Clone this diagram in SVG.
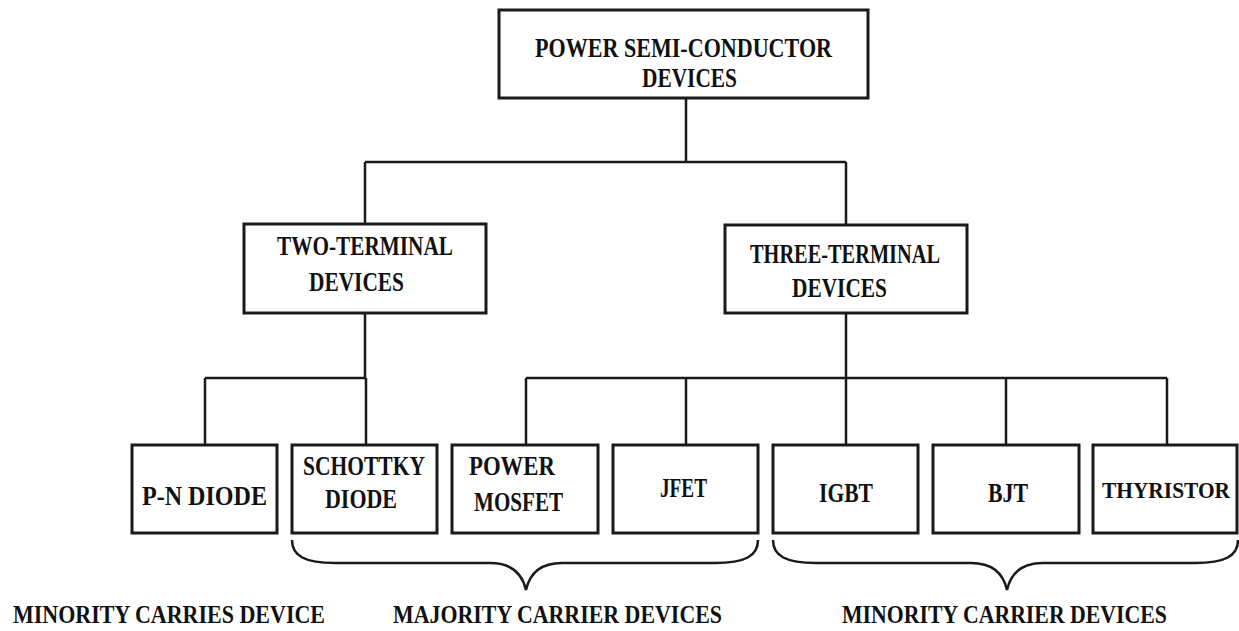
<svg xmlns="http://www.w3.org/2000/svg" width="1239" height="631" viewBox="0 0 1239 631">
<style>
.box{fill:#fff;stroke:#1a1a1a;stroke-width:3}
.con{fill:none;stroke:#1a1a1a;stroke-width:2.5}
.brace{fill:none;stroke:#1a1a1a;stroke-width:2.5}
text{font-family:"Liberation Serif","Times New Roman",serif;font-weight:bold;font-size:27px;fill:#111}
.sm{font-size:25px}
.xs{font-size:23px}
</style>
<rect width="1239" height="631" fill="#fff"/>
<g id="connectors">
<path class="con" d="M686,98 V162 M365,162 H846 M365,162 V224 M846,162 V225"/>
<path class="con" d="M365,313 V378 M205,378 H365 M205,378 V445 M366,378 V445"/>
<path class="con" d="M846,313 V378 M526,378 H1167 M526,378 V445 M686,378 V445 M846,378 V445 M1006,378 V445 M1167,378 V445"/>
</g>
<g id="root">
<rect class="box" x="499" y="10" width="369" height="88"/>
<text x="535" y="57" textLength="297" lengthAdjust="spacingAndGlyphs">POWER SEMI-CONDUCTOR</text>
<text x="642" y="87" textLength="95" lengthAdjust="spacingAndGlyphs">DEVICES</text>
</g>
<g id="two-terminal">
<rect class="box" x="244" y="224" width="242" height="89"/>
<text x="277" y="255" textLength="176" lengthAdjust="spacingAndGlyphs">TWO-TERMINAL</text>
<text x="309" y="291" textLength="95" lengthAdjust="spacingAndGlyphs">DEVICES</text>
</g>
<g id="three-terminal">
<rect class="box" x="725" y="225" width="242" height="88"/>
<text x="750" y="263" textLength="190" lengthAdjust="spacingAndGlyphs">THREE-TERMINAL</text>
<text x="792" y="297" textLength="95" lengthAdjust="spacingAndGlyphs">DEVICES</text>
</g>
<g id="pn-diode">
<rect class="box" x="132" y="445" width="145" height="88"/>
<text x="142" y="505" textLength="125" lengthAdjust="spacingAndGlyphs">P-N DIODE</text>
</g>
<g id="schottky-diode">
<rect class="box" x="292" y="445" width="145" height="88"/>
<text x="303" y="475" textLength="122" lengthAdjust="spacingAndGlyphs">SCHOTTKY</text>
<text x="325" y="508" textLength="72" lengthAdjust="spacingAndGlyphs">DIODE</text>
</g>
<g id="power-mosfet">
<rect class="box" x="452" y="445" width="146" height="88"/>
<text x="469" y="475" textLength="86" lengthAdjust="spacingAndGlyphs">POWER</text>
<text x="474" y="511" textLength="89" lengthAdjust="spacingAndGlyphs">MOSFET</text>
</g>
<g id="jfet">
<rect class="box" x="613" y="445" width="145" height="88"/>
<text x="660" y="497" textLength="47" lengthAdjust="spacingAndGlyphs">JFET</text>
</g>
<g id="igbt">
<rect class="box" x="773" y="445" width="145" height="88"/>
<text x="819" y="502" textLength="54" lengthAdjust="spacingAndGlyphs">IGBT</text>
</g>
<g id="bjt">
<rect class="box" x="933" y="445" width="146" height="88"/>
<text x="988" y="502" textLength="40" lengthAdjust="spacingAndGlyphs">BJT</text>
</g>
<g id="thyristor">
<rect class="box" x="1093" y="445" width="144" height="88"/>
<text class="xs" x="1166" y="498" text-anchor="middle" textLength="128" lengthAdjust="spacingAndGlyphs">THYRISTOR</text>
</g>
<g id="braces">
<path class="brace" d="M292,540 C292,556 305,563 335,563 L490,563 C510,563 522,572 526,590 C530,572 542,563 562,563 L715,563 C745,563 758,556 758,540"/>
<path class="brace" d="M773,540 C773,556 786,563 816,563 L971,563 C991,563 1003,572 1007,590 C1011,572 1023,563 1043,563 L1195,563 C1225,563 1238,556 1238,540"/>
</g>
<g id="labels">
<text class="sm" x="13" y="623" textLength="312" lengthAdjust="spacingAndGlyphs">MINORITY CARRIES DEVICE</text>
<text class="sm" x="393" y="623" textLength="329" lengthAdjust="spacingAndGlyphs">MAJORITY CARRIER DEVICES</text>
<text class="sm" x="842" y="623" textLength="325" lengthAdjust="spacingAndGlyphs">MINORITY CARRIER DEVICES</text>
</g>
</svg>
